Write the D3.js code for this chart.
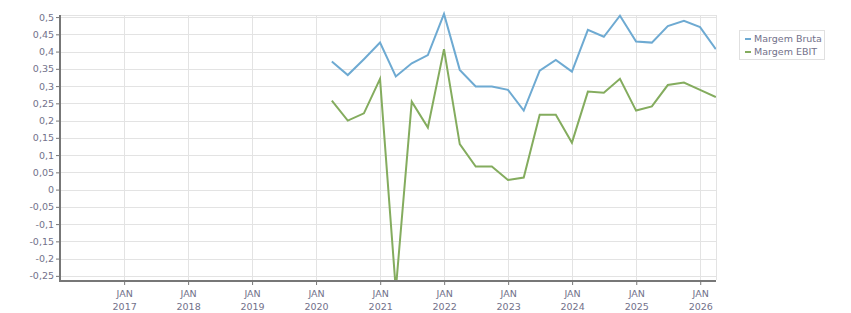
<!DOCTYPE html>
<html>
<head>
<meta charset="utf-8">
<script src="https://cdn.jsdelivr.net/npm/d3@7"></script>
<style>
  body { margin: 0; background: #fff; }
  text { font-family: "DejaVu Sans", Verdana, sans-serif; }
</style>
</head>
<body>
<div id="wrapper"></div>
<script>

// quarter-end dates
const quarters = [
  "2020-03-31","2020-06-30","2020-09-30","2020-12-31",
  "2021-03-31","2021-06-30","2021-09-30","2021-12-31",
  "2022-03-31","2022-06-30","2022-09-30","2022-12-31",
  "2023-03-31","2023-06-30","2023-09-30","2023-12-31",
  "2024-03-31","2024-06-30","2024-09-30","2024-12-31",
  "2025-03-31","2025-06-30","2025-09-30","2025-12-31",
  "2026-03-31"
]
const margemBruta = [
  0.371, 0.332, 0.378, 0.426,
  0.328, 0.366, 0.390, 0.509,
  0.347, 0.299, 0.299, 0.289,
  0.229, 0.345, 0.376, 0.342,
  0.463, 0.443, 0.504, 0.429,
  0.426, 0.474, 0.489, 0.471,
  0.407
]
const margemEbit = [
  0.258, 0.200, 0.221, 0.321,
  -0.29, 0.255, 0.180, 0.407,
  0.132, 0.067, 0.067, 0.028,
  0.035, 0.217, 0.217, 0.136,
  0.284, 0.281, 0.321, 0.229,
  0.241, 0.303, 0.310, 0.289,
  0.268
]
const seriesNames = ["Margem Bruta", "Margem EBIT"]
const seriesColors = ["#6eaad2", "#84ac5e"]
const yTicks = [-0.25,-0.2,-0.15,-0.1,-0.05,0,0.05,0.1,0.15,0.2,0.25,0.3,0.35,0.4,0.45,0.5]
const yearTicks = [2017,2018,2019,2020,2021,2022,2023,2024,2025,2026]

function drawChart() {

  let dimensions = {
    width: 851,
    height: 313,
    margin: { top: 15, right: 135, bottom: 33, left: 60 },
  }
  dimensions.boundedWidth = dimensions.width - dimensions.margin.left - dimensions.margin.right
  dimensions.boundedHeight = dimensions.height - dimensions.margin.top - dimensions.margin.bottom

  const parseDate = d3.timeParse("%Y-%m-%d")
  const dates = quarters.map(parseDate)

  const wrapper = d3.select("#wrapper")
    .append("svg")
      .attr("width", dimensions.width)
      .attr("height", dimensions.height)

  const bounds = wrapper.append("g")
      .attr("transform", `translate(${dimensions.margin.left},${dimensions.margin.top})`)

  // scales
  const xScale = d3.scaleTime()
    .domain([new Date(2016, 0, 1), new Date(2026, 3, 1)])
    .range([0, dimensions.boundedWidth])

  const yScale = d3.scaleLinear()
    .domain([-0.262, 0.506])
    .range([dimensions.boundedHeight, 0])

  const yearDates = yearTicks.map(y => new Date(y, 0, 1))
  const fmt = d => (+d.toFixed(2)).toString().replace(".", ",")

  // grid
  const grid = bounds.append("g")
  grid.selectAll(".hgrid")
    .data(yTicks.map(yScale).concat([0]))
    .join("line")
      .attr("x1", 0)
      .attr("x2", dimensions.boundedWidth)
      .attr("y1", d => Math.round(d) + 0.5)
      .attr("y2", d => Math.round(d) + 0.5)
      .attr("stroke", "#e3e3e3")
  grid.selectAll(".vgrid")
    .data(yearDates.concat([xScale.domain()[1]]))
    .join("line")
      .attr("x1", d => Math.round(xScale(d)) + 0.5)
      .attr("x2", d => Math.round(xScale(d)) + 0.5)
      .attr("y1", 0)
      .attr("y2", dimensions.boundedHeight)
      .attr("stroke", "#e3e3e3")

  // lines
  bounds.append("clipPath")
      .attr("id", "clip")
    .append("rect")
      .attr("y", -10)
      .attr("width", dimensions.boundedWidth)
      .attr("height", dimensions.boundedHeight + 10)

  const lineGen = d3.line()
    .x((d, i) => xScale(dates[i]))
    .y(d => yScale(d))

  const lines = bounds.append("g").attr("clip-path", "url(#clip)")
  ;[margemBruta, margemEbit].forEach((s, i) => {
    lines.append("path")
      .attr("d", lineGen(s))
      .attr("fill", "none")
      .attr("stroke", seriesColors[i])
      .attr("stroke-width", 2)
  })

  // axes
  const yAxis = bounds.append("g")
    .call(d3.axisLeft(yScale).tickValues(yTicks).tickFormat(fmt).tickSize(4).tickPadding(2))
  yAxis.select(".domain").remove()
  yAxis.selectAll(".tick line").attr("stroke", "#777")
  yAxis.selectAll("text").attr("fill", "#72718a").style("font-size", "9.5px")
  yAxis.append("line")
      .attr("x1", 0).attr("x2", 0)
      .attr("y1", 0).attr("y2", dimensions.boundedHeight)
      .attr("stroke", "#777").attr("stroke-width", 2)

  const xAxis = bounds.append("g")
      .attr("transform", `translate(0,${dimensions.boundedHeight})`)
    .call(d3.axisBottom(xScale).tickValues(yearDates).tickSize(5).tickFormat(""))
  xAxis.select(".domain").remove()
  xAxis.selectAll(".tick line").attr("stroke", "#777")
  xAxis.append("line")
      .attr("x1", -1).attr("x2", dimensions.boundedWidth)
      .attr("y1", 1).attr("y2", 1)
      .attr("stroke", "#777").attr("stroke-width", 2)
  xAxis.selectAll(".tick").each(function(d) {
    const t = d3.select(this).append("text")
      .attr("fill", "#72718a")
      .attr("text-anchor", "middle")
      .style("font-size", "9.5px")
    t.append("tspan").attr("x", 0).attr("y", 17).text("JAN")
    t.append("tspan").attr("x", 0).attr("y", 30).text(d.getFullYear())
  })

  // legend
  const legend = wrapper.append("g").attr("transform", "translate(739,30)")
  legend.append("rect")
      .attr("x", 0.5).attr("y", 0.5)
      .attr("width", 85).attr("height", 29)
      .attr("fill", "#fff")
      .attr("stroke", "#e0e0e0")
  seriesNames.forEach((name, i) => {
    const g = legend.append("g").attr("transform", `translate(6,${9 + i * 13})`)
    g.append("line")
        .attr("x1", 0).attr("x2", 6)
        .attr("stroke", seriesColors[i]).attr("stroke-width", 2)
    g.append("text")
        .attr("x", 9).attr("dy", "0.35em")
        .attr("fill", "#72718a")
        .style("font-size", "9.5px")
        .text(name)
  })
}

drawChart()
</script>
</body>
</html>
